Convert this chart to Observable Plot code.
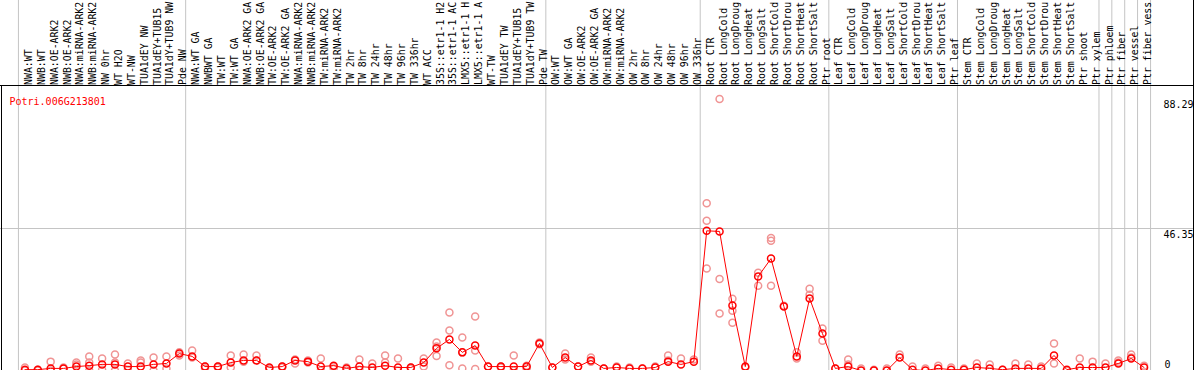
<!DOCTYPE html>
<html><head><meta charset="utf-8">
<script src="https://cdn.jsdelivr.net/npm/d3@7"></script>
<script src="https://cdn.jsdelivr.net/npm/@observablehq/plot@0.6"></script>
<style>body{margin:0;background:#fff} svg{display:block}</style>
</head><body><div id="chart"></div>
<script>
const geneId = "Potri.006G213801";
const categories = [
  "NWA:WT","NWB:WT","NWA:OE-ARK2","NWB:OE-ARK2","NWA:miRNA-ARK2","NWB:miRNA-ARK2","NW 0hr","WT H2O","WT-NW","TUA1dEY NW","TUA1dEY+TUB15 NW","TUA1dY+TUB9 NW","Pde NW",
  "NWA:WT GA","NWBWT GA","TW:WT","TW:WT GA","NWA:OE-ARK2 GA","NWB:OE-ARK2 GA","TW:OE-ARK2","TW:OE-ARK2 GA","NWA:miRNA-ARK2 GA","NWB:miRNA-ARK2 GA","TW:miRNA-ARK2","TW:miRNA-ARK2 GA",
  "TW 2hr","TW 8hr","TW 24hr","TW 48hr","TW 96hr","TW 336hr","WT ACC","35S::etr1-1 H2O","35S::etr1-1 ACC","LMX5::etr1-1 H2O","LMX5::etr1-1 ACC","WT-TW","TUA1dEY TW","TUA1dEY+TUB15 TW","TUA1dY+TUB9 TW","Pde TW",
  "OW:WT","OW:WT GA","OW:OE-ARK2","OW:OE-ARK2 GA","OW:miRNA-ARK2","OW:miRNA-ARK2 GA","OW 2hr","OW 8hr","OW 24hr","OW 48hr","OW 96hr","OW 336hr",
  "Root CTR","Root LongCold","Root LongDrought","Root LongHeat","Root LongSalt","Root ShortCold","Root ShortDrought","Root ShortHeat","Root ShortSalt","Ptr root",
  "Leaf CTR","Leaf LongCold","Leaf LongDrought","Leaf LongHeat","Leaf LongSalt","Leaf ShortCold","Leaf ShortDrought","Leaf ShortHeat","Leaf ShortSalt","Ptr leaf",
  "Stem CTR","Stem LongCold","Stem LongDrought","Stem LongHeat","Stem LongSalt","Stem ShortCold","Stem ShortDrought","Stem ShortHeat","Stem ShortSalt",
  "Ptr shoot","Ptr xylem","Ptr phloem","Ptr fiber","Ptr vessel","Ptr fiber vessel"
];
// tick labels as printed (truncated to the label band)
const categoryLabels = [
  "NWA:WT","NWB:WT","NWA:OE-ARK2","NWB:OE-ARK2","NWA:miRNA-ARK2","NWB:miRNA-ARK2","NW 0hr","WT H2O","WT-NW","TUA1dEY NW","TUA1dEY+TUB15","TUA1dY+TUB9 NW","Pde NW",
  "NWA:WT GA","NWBWT GA","TW:WT","TW:WT GA","NWA:OE-ARK2 GA","NWB:OE-ARK2 GA","TW:OE-ARK2","TW:OE-ARK2 GA","NWA:miRNA-ARK2","NWB:miRNA-ARK2","TW:miRNA-ARK2","TW:miRNA-ARK2",
  "TW 2hr","TW 8hr","TW 24hr","TW 48hr","TW 96hr","TW 336hr","WT ACC","35S::etr1-1 H2","35S::etr1-1 AC","LMX5::etr1-1 H","LMX5::etr1-1 A","WT-TW","TUA1dEY TW","TUA1dEY+TUB15","TUA1dY+TUB9 TW","Pde TW",
  "OW:WT","OW:WT GA","OW:OE-ARK2","OW:OE-ARK2 GA","OW:miRNA-ARK2","OW:miRNA-ARK2","OW 2hr","OW 8hr","OW 24hr","OW 48hr","OW 96hr","OW 336hr",
  "Root CTR","Root LongCold","Root LongDroug","Root LongHeat","Root LongSalt","Root ShortCold","Root ShortDrou","Root ShortHeat","Root ShortSalt","Ptr root",
  "Leaf CTR","Leaf LongCold","Leaf LongDroug","Leaf LongHeat","Leaf LongSalt","Leaf ShortCold","Leaf ShortDrou","Leaf ShortHeat","Leaf ShortSalt","Ptr leaf",
  "Stem CTR","Stem LongCold","Stem LongDroug","Stem LongHeat","Stem LongSalt","Stem ShortCold","Stem ShortDrou","Stem ShortHeat","Stem ShortSalt",
  "Ptr shoot","Ptr xylem","Ptr phloem","Ptr fiber","Ptr vessel","Ptr fiber vess"
];
const means = [
  0.6,0.6,1.0,1.0,1.6,1.9,2.3,2.3,1.6,1.6,2.3,2.6,5.8,
  4.9,1.6,1.6,2.9,3.6,3.6,1.3,1.6,3.6,3.2,1.6,1.9,
  1.0,1.6,1.3,1.9,1.3,1.3,2.9,7.5,10.4,6.2,8.4,1.6,1.6,1.6,1.6,9.1,
  1.3,4.5,1.6,3.6,1.0,1.3,1.0,1.0,1.3,3.2,2.3,3.2,
  45.6,45.4,21.4,1.6,30.8,36.6,21.1,4.9,23.7,12.3,
  1.0,1.6,0.3,0.3,0.3,4.5,0.6,0.3,1.0,0.6,
  0.6,1.3,1.0,0.6,1.0,1.0,1.0,5.2,0.6,
  1.3,1.3,1.3,2.6,4.2,1.3
];
const replicates = [
  [1.3,0.3],[0.6,0.3],[3.2,0.3],[1.0,1.3],[2.3,2.9],[4.9,2.9,0.3],[4.2,0.6],[5.5,2.9,0.3],[2.6,0.6],[3.6,2.9],[4.5,0.3],[4.9,1.0],[6.2,5.2],
  [6.8,4.5],[1.6,1.0],[1.6,1.3],[5.2,1.3],[5.5,3.2],[5.2,3.6],[1.0,0.6],[1.3,1.6],[3.9,2.6],[3.6,2.9],[4.2,0.3],[1.0,1.6],
  [1.3,0.3],[3.9,0.6],[2.6,0.3],[5.2,2.9],[4.2,0.3],[1.3,1.0],[4.2,1.6],[9.4,8.1,5.0],[19.1,13.3,2.0],[11.0,6.2,1.0],[17.8,6.8,0.8],[1.6],[1.6,1.3],[5.2,0.3],[1.9,1.0],[9.4,8.8],
  [1.3],[5.8,3.9],[1.6],[4.5,3.2],[1.0],[1.6],[1.3],[1.0],[1.6],[5.2,3.6],[4.2],[3.9],
  [54.5,48.9,33.4],[88.29,30.0,18.8],[23.6,19.7,15.8],[1.3],[32.0,27.8],[43.3,42.4,27.8],[21.3],[6.2,4.2],[26.8,24.9],[13.9,10.0],
  [1.0],[3.9,2.3],[1.0],[0.6],[1.0],[5.5],[1.6],[1.0],[1.9],[1.3],
  [1.0],[2.6],[2.3],[0.6],[2.6],[2.3],[1.6],[9.1,2.6],[0.3],
  [4.2,0.3],[3.2],[2.6],[3.6,2.9],[5.5,4.5],[1.9]
];
const groupStarts = ["NWA:WT","NWA:WT GA","OW:WT","Root CTR","Leaf CTR","Stem CTR","Ptr phloem","Ptr fiber","Ptr vessel","Ptr fiber vessel"];
const groupEnd = ["Ptr fiber vessel"];
const yMax = 92.7;
const yTicks = [88.29, 46.35, 0];

const table = categories.map((c, i) => ({cat: c, mean: means[i]}));
const reps = replicates.flatMap((vs, i) => vs.map(v => ({cat: categories[i], value: v})));

const chart = Plot.plot({
  width: 1194, height: 370,
  marginTop: 0, marginBottom: 0, marginLeft: 0, marginRight: 0,
  style: {fontFamily: "'DejaVu Sans Mono', monospace", fontSize: "10px", background: "#fff", overflow: "hidden"},
  x: {type: "point", domain: categories, range: [18, 1150], axis: null},
  y: {domain: [0, yMax], range: [371, 85], axis: null},
  marks: [
    Plot.ruleX(groupStarts, {x: d => d, dx: -6.5, stroke: "#c4c4c4"}),
    Plot.ruleX(groupEnd, {x: d => d, dx: 6.5, stroke: "#c4c4c4"}),
    Plot.ruleY([yTicks[1]], {stroke: "#c4c4c4"}),
    Plot.ruleY([yMax], {stroke: "black"}),
    Plot.text(categories, {x: d => d, frameAnchor: "top", dy: 84.5, rotate: -90, textAnchor: "start", text: (d, i) => categoryLabels[i], fill: "black", fontSize: 9.9}),
    Plot.dot(reps, {x: "cat", y: "value", r: 3.5, stroke: "#f09494", strokeWidth: 1.5}),
    Plot.line(table, {x: "cat", y: "mean", stroke: "red", strokeWidth: 1}),
    Plot.dot(table, {x: "cat", y: "mean", r: 3.5, stroke: "red", strokeWidth: 1.5}),
    Plot.text([geneId], {frameAnchor: "top-left", dx: 9, dy: 97, text: d => d, fill: "red", textAnchor: "start"}),
    Plot.text(yTicks.filter(v => v > 0), {y: d => d, frameAnchor: "right", dx: -31, textAnchor: "start", lineAnchor: "top", dy: 2, text: d => String(d), fill: "black"}),
    Plot.text(yTicks.filter(v => v === 0), {y: d => d, frameAnchor: "right", dx: -30, textAnchor: "start", lineAnchor: "bottom", dy: -4, text: d => String(d), fill: "black"})
  ]
});
const svg = d3.select(chart);
svg.append("line").attr("x1", 1193.5).attr("x2", 1193.5).attr("y1", 0).attr("y2", 370).attr("stroke", "black");
svg.append("line").attr("x1", 1.5).attr("x2", 1.5).attr("y1", 85).attr("y2", 370).attr("stroke", "black");
document.getElementById("chart").appendChild(chart);
</script>
</body></html>
